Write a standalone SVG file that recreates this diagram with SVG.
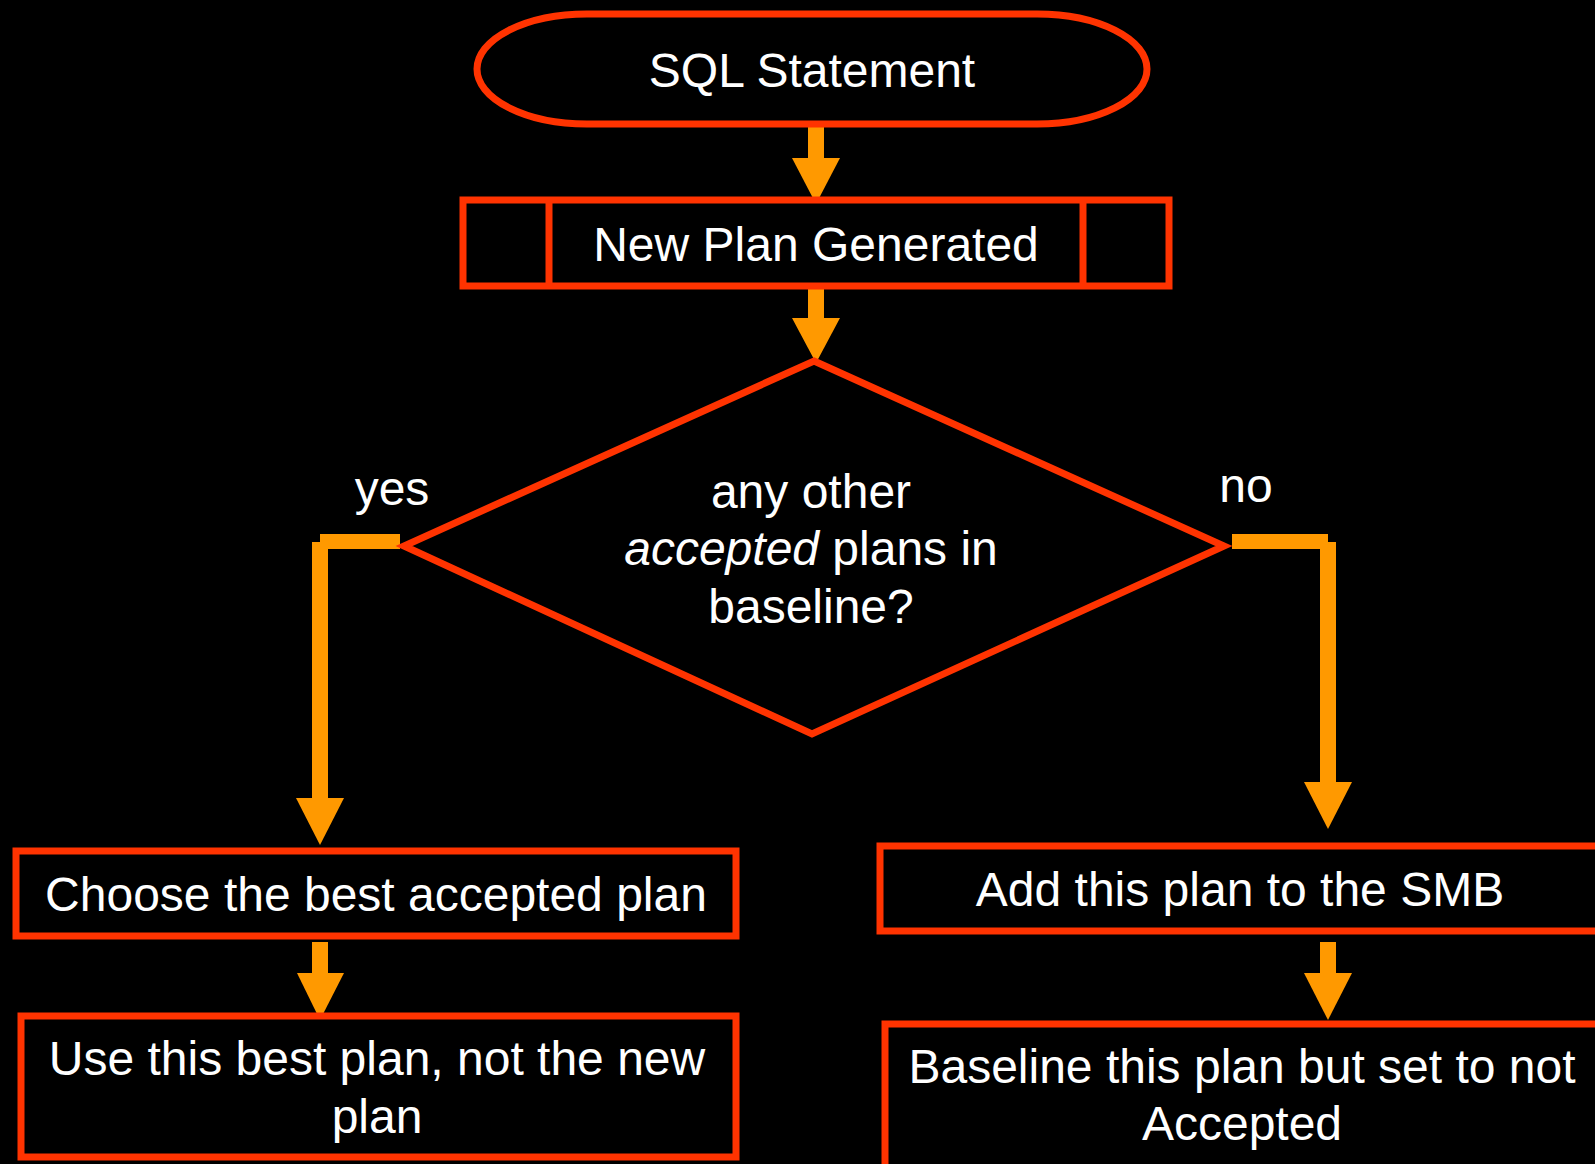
<svg xmlns="http://www.w3.org/2000/svg" width="1595" height="1164" viewBox="0 0 1595 1164">
<defs>
<style>
.shape{fill:#000;stroke:#FF3300;stroke-width:7}
.t{font-family:"Liberation Sans",Arial,sans-serif;font-size:48px;fill:#fff;text-anchor:middle}
.c{fill:#FF9900}
</style>
</defs>
<rect x="0" y="0" width="1595" height="1164" fill="#000"/>
<g id="connectors">
  <rect class="c" x="808" y="124" width="16" height="36"/>
  <polygon class="c" points="792,158 840,158 816,204"/>
  <rect class="c" x="808" y="286" width="16" height="34"/>
  <polygon class="c" points="792,318 840,318 816,363"/>
  <rect class="c" x="320" y="534" width="80" height="15"/>
  <rect class="c" x="312" y="542" width="16" height="258"/>
  <polygon class="c" points="296,798 344,798 320,845"/>
  <rect class="c" x="1232" y="534" width="96" height="15"/>
  <rect class="c" x="1320" y="542" width="16" height="242"/>
  <polygon class="c" points="1304,782 1352,782 1328,829"/>
  <rect class="c" x="312" y="942" width="16" height="33"/>
  <polygon class="c" points="297,973 344,973 320,1020"/>
  <rect class="c" x="1320" y="942" width="16" height="33"/>
  <polygon class="c" points="1304,973 1352,973 1328,1020"/>
  <text class="t" x="392" y="505">yes</text>
  <text class="t" x="1246" y="502">no</text>
</g>
<g id="sql">
  <rect class="shape" x="477" y="14" width="670" height="110" rx="110" ry="55"/>
  <text class="t" x="812" y="87">SQL Statement</text>
</g>
<g id="newplan">
  <rect class="shape" x="463" y="200" width="706" height="86"/>
  <line class="shape" x1="549" y1="200" x2="549" y2="286"/>
  <line class="shape" x1="1083" y1="200" x2="1083" y2="286"/>
  <text class="t" x="816" y="261">New Plan Generated</text>
</g>
<g id="decision">
  <polygon class="shape" points="814,361 1224,546 812,734 404,546"/>
  <text class="t" x="811" y="508">any other</text>
  <text class="t" x="811" y="565"><tspan font-style="italic">accepted</tspan> plans in</text>
  <text class="t" x="811" y="623">baseline?</text>
</g>
<g id="choose">
  <rect class="shape" x="16" y="851" width="720" height="85"/>
  <text class="t" x="376" y="911">Choose the best accepted plan</text>
</g>
<g id="usebest">
  <rect class="shape" x="21" y="1016" width="715" height="141"/>
  <text class="t" x="377" y="1075">Use this best plan, not the new</text>
  <text class="t" x="377" y="1133">plan</text>
</g>
<g id="addsmb">
  <rect class="shape" x="880" y="846" width="730" height="85"/>
  <text class="t" x="1240" y="906">Add this plan to the SMB</text>
</g>
<g id="baseline">
  <rect class="shape" x="885" y="1024" width="730" height="160"/>
  <text class="t" x="1242" y="1083">Baseline this plan but set to not</text>
  <text class="t" x="1242" y="1140">Accepted</text>
</g>
</svg>
